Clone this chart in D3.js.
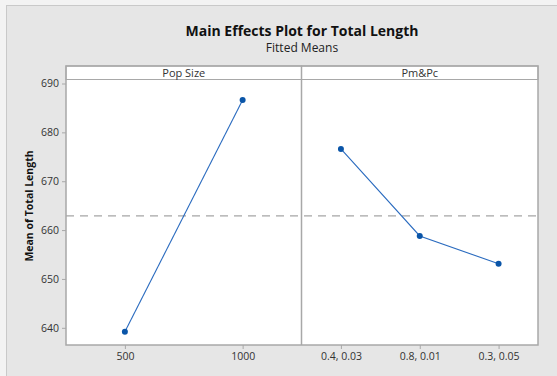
<!DOCTYPE html>
<html>
<head>
<meta charset="utf-8">
<script src="https://cdn.jsdelivr.net/npm/d3@7"></script>
<style>
html,body{margin:0;padding:0;background:#f3f3f3;}
svg{display:block;}
text{font-family:"Open Sans","Noto Sans",sans-serif;}
</style>
</head>
<body>
<svg id="chart" width="557" height="376"></svg>
<script>
const title = "Main Effects Plot for Total Length";
const subtitle = "Fitted Means";
const yLabel = "Mean of Total Length";
const factorNames = ["Pop Size", "Pm&Pc"];
const popSizeLevels = ["500", "1000"];
const popSizeMeans = [639.2, 686.6];
const pmPcLevels = ["0.4, 0.03", "0.8, 0.01", "0.3, 0.05"];
const pmPcMeans = [676.6, 658.8, 653.1];
const grandMean = 662.9;
const yTicks = [640, 650, 660, 670, 680, 690];

(function(){
const svg = d3.select("#chart");
const W = 557, H = 376;

svg.append("rect").attr("x", 6.5).attr("y", 5.5).attr("width", W).attr("height", H)
  .attr("fill", "#e6e6e6").attr("stroke", "#c9c9c9").attr("stroke-width", 1);

const mLeft = 66, mRight = 538, mTop = 66, stripH = 13.5, mBottom = 345;
const divX = 301.5;

const y = d3.scaleLinear().domain([640, 690]).range([327.8, 83.5]);

const panels = [
  {name: factorNames[0], levels: popSizeLevels, means: popSizeMeans, x0: mLeft, x1: divX},
  {name: factorNames[1], levels: pmPcLevels, means: pmPcMeans, x0: divX, x1: mRight}
];

svg.append("rect").attr("x", mLeft).attr("y", mTop).attr("width", mRight - mLeft).attr("height", mBottom - mTop)
  .attr("fill", "#ffffff");

svg.append("line").attr("x1", mLeft).attr("x2", mRight)
  .attr("y1", y(grandMean)).attr("y2", y(grandMean))
  .attr("stroke", "#8f8f8f").attr("stroke-width", 1).attr("stroke-dasharray", "8,6");

panels.forEach(p => {
  const x = d3.scalePoint().domain(p.levels).range([p.x0, p.x1]).padding(0.5);
  svg.append("rect").attr("x", p.x0).attr("y", mTop).attr("width", p.x1 - p.x0).attr("height", stripH)
    .attr("fill", "#ffffff").attr("stroke", "#a8a8a8").attr("stroke-width", 1);
  svg.append("text").attr("x", (p.x0 + p.x1) / 2).attr("y", mTop + 10.5)
    .attr("text-anchor", "middle").attr("font-size", 11).attr("fill", "#333")
    .text(p.name);
  const xAxis = d3.axisBottom(x).tickSize(4).tickPadding(4);
  const g = svg.append("g").attr("transform", `translate(0,${mBottom})`).call(xAxis);
  g.select(".domain").remove();
  g.selectAll(".tick line").attr("stroke", "#a8a8a8");
  g.selectAll(".tick text").attr("font-size", 10.5).attr("fill", "#333")
    .style("font-family", "'Open Sans','Noto Sans',sans-serif");
  const pts = p.levels.map((l, i) => [x(l), y(p.means[i])]);
  svg.append("path").attr("d", d3.line()(pts)).attr("fill", "none")
    .attr("stroke", "#2a6bbf").attr("stroke-width", 1.1);
  svg.selectAll(null).data(pts).enter().append("circle")
    .attr("cx", d => d[0]).attr("cy", d => d[1]).attr("r", 3)
    .attr("fill", "#0a55a8");
});

svg.append("rect").attr("x", mLeft).attr("y", mTop).attr("width", mRight - mLeft).attr("height", mBottom - mTop)
  .attr("fill", "none").attr("stroke", "#a8a8a8").attr("stroke-width", 1.5);
svg.append("line").attr("x1", divX).attr("x2", divX).attr("y1", mTop).attr("y2", mBottom)
  .attr("stroke", "#a8a8a8").attr("stroke-width", 1.5);

const yAxis = d3.axisLeft(y).tickValues(yTicks).tickSize(4).tickPadding(3);
const gy = svg.append("g").attr("transform", `translate(${mLeft},0)`).call(yAxis);
gy.select(".domain").remove();
gy.selectAll(".tick line").attr("stroke", "#a8a8a8");
gy.selectAll(".tick text").attr("font-size", 10.5).attr("fill", "#333")
  .style("font-family", "'Open Sans','Noto Sans',sans-serif");

svg.append("text").attr("transform", `translate(33,206) rotate(-90)`)
  .attr("text-anchor", "middle").attr("font-size", 10.5).attr("font-weight", "bold").attr("fill", "#111")
  .text(yLabel);

svg.append("text").attr("x", 302).attr("y", 36).attr("text-anchor", "middle")
  .attr("font-size", 14).attr("font-weight", "bold").attr("fill", "#111").text(title);
svg.append("text").attr("x", 302).attr("y", 52).attr("text-anchor", "middle")
  .attr("font-size", 12).attr("fill", "#222").text(subtitle);
})();
</script>
</body>
</html>
